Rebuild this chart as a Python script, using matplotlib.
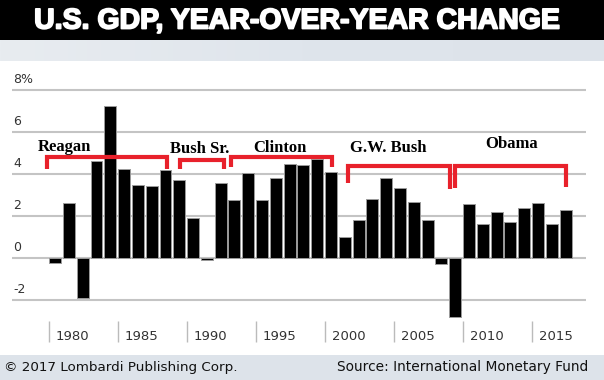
import numpy as np
import matplotlib
matplotlib.use('Agg')
from matplotlib import pyplot as plt
from matplotlib.patches import Rectangle
import matplotlib.patheffects as pe


years = list(range(1980, 2018))
growth = [-0.25, 2.6, -1.9, 4.6, 7.25, 4.25, 3.5, 3.45, 4.2, 3.7,
          1.9, -0.1, 3.55, 2.75, 4.05, 2.75, 3.8, 4.5, 4.45, 4.7,
          4.1, 1.0, 1.8, 2.8, 3.8, 3.35, 2.65, 1.8, -0.3, -2.8,
          2.55, 1.6, 2.2, 1.7, 2.4, 2.6, 1.6, 2.3]

grid_values = [-2, 0, 2, 4, 6, 8]
grid_labels = ['-2', '0', '2', '4', '6', '8%']
year_ticks = [1980, 1985, 1990, 1995, 2000, 2005, 2010, 2015]

# presidents: bracket start/end, bracket level, leg ends, label position
presidents = ['Reagan', 'Bush Sr.', 'Clinton', 'G.W. Bush', 'Obama']
br_start = [1979.42, 1989.06, 1992.75, 2001.23, 2008.99]
br_end = [1988.12, 1992.25, 2000.07, 2008.62, 2017.03]
br_level = [4.81, 4.67, 4.81, 4.38, 4.38]
br_left_leg = [4.24, 4.24, 4.33, 3.57, 3.33]
br_right_leg = [4.24, 4.24, 4.33, 3.29, 3.38]
label_x = [1980.65, 1990.5, 1996.3, 2004.13, 2013.1]
label_y = [5.29, 5.19, 5.24, 5.24, 5.43]

W, H = 604, 380
fig = plt.figure(figsize=(W / 100, H / 100), dpi=100)

# title band
fig.patches.append(Rectangle((0, 340 / H), 1, 40 / H, transform=fig.transFigure,
                             facecolor='black', edgecolor='none', zorder=0))
band = fig.add_axes([0, 319 / H, 1, 21 / H])
grad = np.linspace(0, 1, 256).reshape(1, -1)
band.imshow(grad, aspect='auto', cmap=matplotlib.colors.LinearSegmentedColormap.from_list(
    'band', ['#e8ecf0', '#dfe5ec', '#dde3ea']), extent=[0, 1, 0, 1])
band.axis('off')
fig.text(297 / W, 1 - 21.5 / H, 'U.S. GDP, YEAR-OVER-YEAR CHANGE', color='white',
         fontsize=20.5, fontweight='bold', family='Liberation Sans',
         ha='center', va='center',
         path_effects=[pe.withStroke(linewidth=1.3, foreground='white')])

# footer band
fig.patches.append(Rectangle((0, 0), 1, 25 / H, transform=fig.transFigure,
                             facecolor='#dde3ea', edgecolor='none', zorder=0))
fig.text(4 / W, 13 / H, '\u00a9 2017 Lombardi Publishing Corp.', fontsize=9.7,
         color='#111111', ha='left', va='center')
fig.text(588 / W, 13 / H, 'Source: International Monetary Fund', fontsize=9.9,
         color='#111111', ha='right', va='center')

ax = fig.add_axes([12 / W, 0.0834, 574 / W, 0.735])
ax.set_xlim(1976.88, 2018.48)
ax.set_ylim(-4.3, 9.0)
ax.axis('off')

ax.hlines(grid_values, 1976.88, 2018.48, colors='#c4c4c4', linewidth=1.5, zorder=1)
for v, lab in zip(grid_values, grid_labels):
    ax.text(1976.95, v + 0.52, lab, fontsize=9, color='#333333',
            ha='left', va='center')

ax.bar(years, growth, width=0.86, color='black', edgecolor='#9a9a9a',
       linewidth=0.7, zorder=2)

for yr in year_ticks:
    ax.vlines(yr - 0.45, -4.0, -3.0, colors='#bbbbbb', linewidth=1)
    ax.text(yr + 0.05, -3.75, str(yr), fontsize=9.5, color='#333333',
            ha='left', va='center')

red = '#e8212b'
for name, s, e, lv, ll, rl, tx, ty in zip(presidents, br_start, br_end, br_level,
                                          br_left_leg, br_right_leg, label_x, label_y):
    ax.plot([s, s, e, e], [ll, lv, lv, rl], color=red, linewidth=3,
            solid_joinstyle='miter', solid_capstyle='butt', zorder=3)
    ax.text(tx, ty, name, fontsize=12, fontweight='bold', family='Liberation Serif',
            ha='center', va='center', zorder=4)

fig.savefig('out.png', dpi=100)
